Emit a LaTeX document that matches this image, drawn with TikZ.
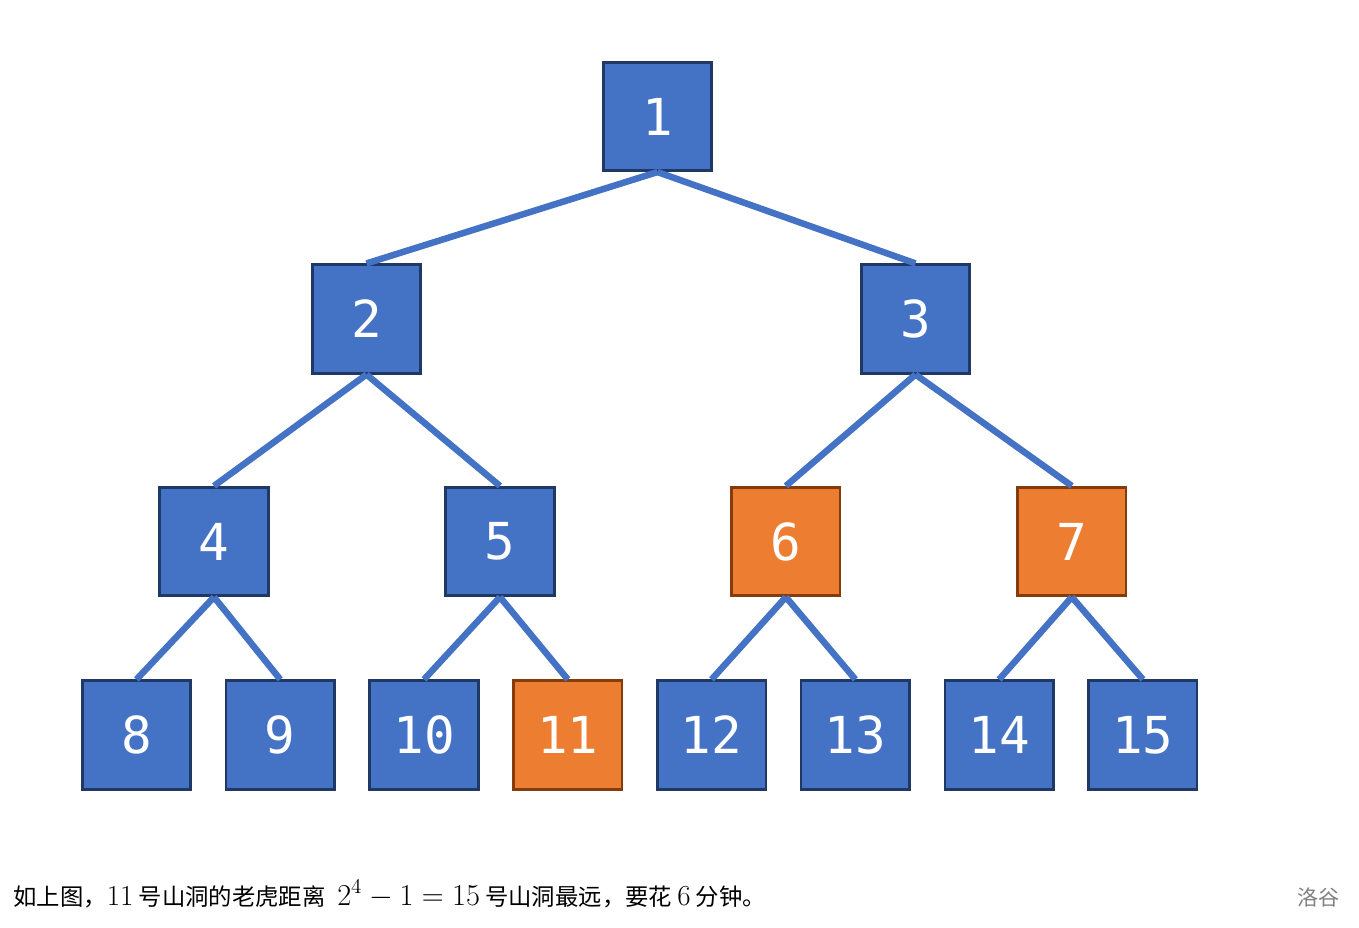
\documentclass[tikz,border=0pt]{standalone}
\usepackage{amsmath}
\usepackage{fontspec}
\usepackage{tikz}
\usetikzlibrary{positioning}
\newfontfamily\cjkfont{Noto Sans CJK SC}
\newfontfamily\numfont{DejaVu Sans Mono}
\definecolor{caveblue}{HTML}{4472C4}
\definecolor{caveline}{HTML}{1F3864}
\definecolor{farorange}{HTML}{ED7D31}
\definecolor{farline}{HTML}{843C0C}
\newcommand\lmpart[1]{{\fontsize{16.5}{20}\selectfont\normalfont #1}}

\begin{document}
\begin{tikzpicture}[x=0.02cm, y=0.02cm,
    cave/.style={rectangle, draw=caveline, fill=caveblue, line width=1.5pt,
      minimum size=2.17cm, inner sep=0pt, text=white,
      font=\numfont\fontsize{29}{30}\selectfont},
    far/.style={cave, draw=farline, fill=farorange},
    link/.style={draw=caveblue, line width=3.7pt}]
	\useasboundingbox (0,0) rectangle (1359,927);
	
	\node[cave] (n1) at (657.5,810.5) {1};
	\node[cave] (n2) at (366.5,608) {2};
	\node[cave] (n3) at (915.5,608) {3};
	
	\node[cave] (n4) at (214,385.5) {4};
	\node[cave, right of=n4, node distance=5.72cm] (n5) {5};
	\node[far, right of=n5, node distance=5.72cm] (n6) {6};
	\node[far, right of=n6, node distance=5.72cm] (n7) {7};
	
	\node[cave] (n8) at (136.5,192) {8};
	\node[cave, right of=n8, node distance=2.876cm] (n9) {9};
	\node[cave, right of=n9, node distance=2.876cm] (n10) {10};
	\node[far, right of=n10, node distance=2.876cm] (n11) {11};
	\node[cave, right of=n11, node distance=2.876cm] (n12) {12};
	\node[cave, right of=n12, node distance=2.876cm] (n13) {13};
	\node[cave, right of=n13, node distance=2.876cm] (n14) {14};
	\node[cave, right of=n14, node distance=2.876cm] (n15) {15};
	
	\foreach \p/\c in {1/2,1/3,2/4,2/5,3/6,3/7,4/8,4/9,5/10,5/11,6/12,6/13,7/14,7/15}
		\path[link] (n\p.south) -- (n\c.north);
	
	\node[anchor=base west, inner sep=0pt] (caption) at (13,22)
		{\cjkfont\fontsize{13.3}{16}\selectfont 如上图，\lmpart{11} 号山洞的老虎距离\enspace\lmpart{$2^4-1=15$} 号山洞最远，要花 \lmpart{6} 分钟。};
	\node[anchor=base east, inner sep=0pt, text=gray] (logo) at (1340,22)
		{\cjkfont\fontsize{12}{14}\selectfont 洛谷};
\end{tikzpicture}
\end{document}
